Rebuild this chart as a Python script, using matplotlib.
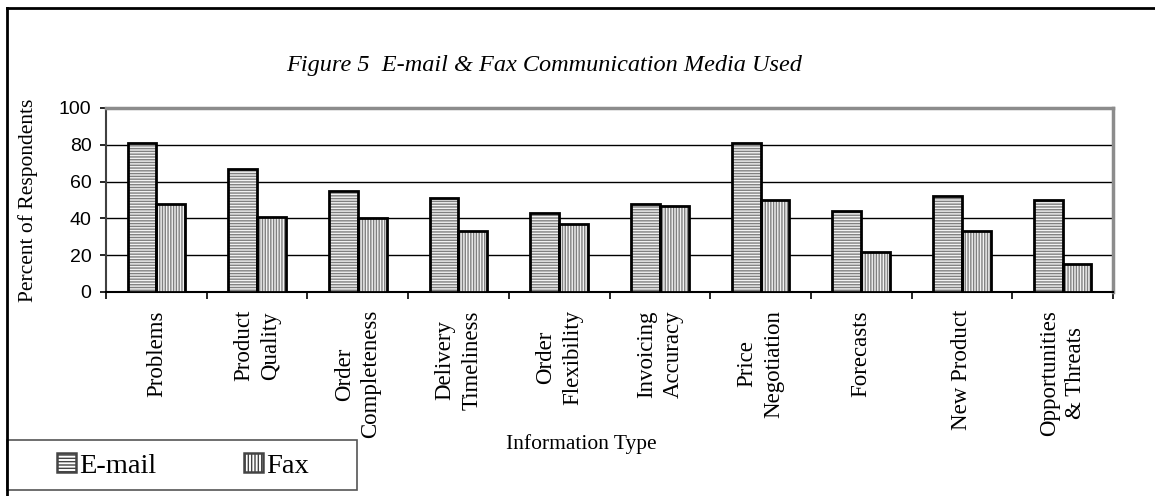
import numpy as np
import matplotlib
matplotlib.use("Agg")
import matplotlib.pyplot as plt
from matplotlib.patches import Rectangle, Patch
from matplotlib.lines import Line2D

# data
categories = ["Problems", "Product\nQuality", "Order\nCompleteness", "Delivery\nTimeliness",
              "Order\nFlexibility", "Invoicing\nAccuracy", "Price\nNegotiation", "Forecasts",
              "New Product", "Opportunities\n& Threats"]
email = [81, 67, 55, 51, 43, 48, 81, 44, 52, 50]
fax = [48, 41, 40, 33, 37, 47, 50, 22, 33, 15]
series_names = ["E-mail", "Fax"]
yticks = [0, 20, 40, 60, 80, 100]

W, H = 1155, 496
fig = plt.figure(figsize=(W / 100, H / 100), dpi=100)
ax = fig.add_axes([106 / W, 1 - 292 / H, (1113 - 106) / W, (292 - 108) / H])

x = np.arange(len(categories))
bw = 0.286

plt.rcParams['hatch.linewidth'] = 1.0
# hatched fill first, then black outline on top
ax.bar(x - bw / 2, email, bw, color="#f2f2f2", edgecolor="#808080", hatch="------", linewidth=0, zorder=3)
ax.bar(x + bw / 2, fax, bw, color="#f2f2f2", edgecolor="#808080", hatch="||||||", linewidth=0, zorder=3)
ax.bar(x - bw / 2, email, bw, fill=False, edgecolor="black", linewidth=2, zorder=4)
ax.bar(x + bw / 2, fax, bw, fill=False, edgecolor="black", linewidth=2, zorder=4)

ax.set_xlim(-0.5, len(categories) - 0.5)
ax.set_ylim(0, 100)
ax.set_yticks(yticks)
ax.set_yticklabels([str(v) for v in yticks], family="Liberation Sans", fontsize=14)
ax.tick_params(axis="y", length=4.5, width=1.2, pad=6, direction="out")

ax.set_xticks(x)
ax.set_xticklabels(categories, rotation=90, family="Liberation Serif", fontsize=16.5,
                   va="top", ha="center", multialignment="center", linespacing=1.35)
ax.tick_params(axis="x", which="major", length=0, pad=13)
ax.set_xticks(np.arange(len(categories) + 1) - 0.5, minor=True)
ax.tick_params(axis="x", which="minor", length=5, width=1.2, direction="out")

for v in yticks[1:-1]:
    ax.axhline(v, color="black", linewidth=1, zorder=1)

ax.spines["top"].set_color("#8c8c8c")
ax.spines["top"].set_linewidth(2.5)
ax.spines["right"].set_color("#8c8c8c")
ax.spines["right"].set_linewidth(2.5)
ax.spines["left"].set_color("#404040")
ax.spines["left"].set_linewidth(1.5)
ax.spines["bottom"].set_color("black")
ax.spines["bottom"].set_linewidth(1.5)

fig.text(544 / W, 1 - 66 / H, "Figure 5  E-mail & Fax Communication Media Used",
         family="Liberation Serif", style="italic", fontsize=17.5, ha="center", va="center")
fig.text(28 / W, 1 - 200 / H, "Percent of Respondents", family="Liberation Serif",
         fontsize=15.5, rotation=90, ha="center", va="center")
fig.text(581 / W, 1 - 444 / H, "Information Type", family="Liberation Serif",
         fontsize=15.5, ha="center", va="center")

# outer frame (top and left only)
fig.add_artist(Line2D([7 / W, 1], [1 - 8 / H, 1 - 8 / H], color="black", linewidth=2))
fig.add_artist(Line2D([7 / W, 7 / W], [0, 1 - 8 / H], color="black", linewidth=2))

# legend box
fig.add_artist(Rectangle((7 / W, 1 - 490 / H), 350 / W, 50 / H, transform=fig.transFigure,
                         fill=False, edgecolor="#555555", linewidth=1.2))
handles = [Patch(facecolor="white", edgecolor="#444444", hatch="-----", linewidth=1.8),
           Patch(facecolor="white", edgecolor="#444444", hatch="|||||", linewidth=1.8)]
fig.legend(handles, series_names, loc="center", bbox_to_anchor=(183 / W, 1 - 466 / H),
           ncol=2, frameon=False, prop={"family": "Liberation Serif", "size": 20.5},
           handlelength=0.66, handleheight=0.66, handletextpad=0.12, columnspacing=3.1,
           borderpad=0, borderaxespad=0)

fig.savefig("out.png", dpi=100)
